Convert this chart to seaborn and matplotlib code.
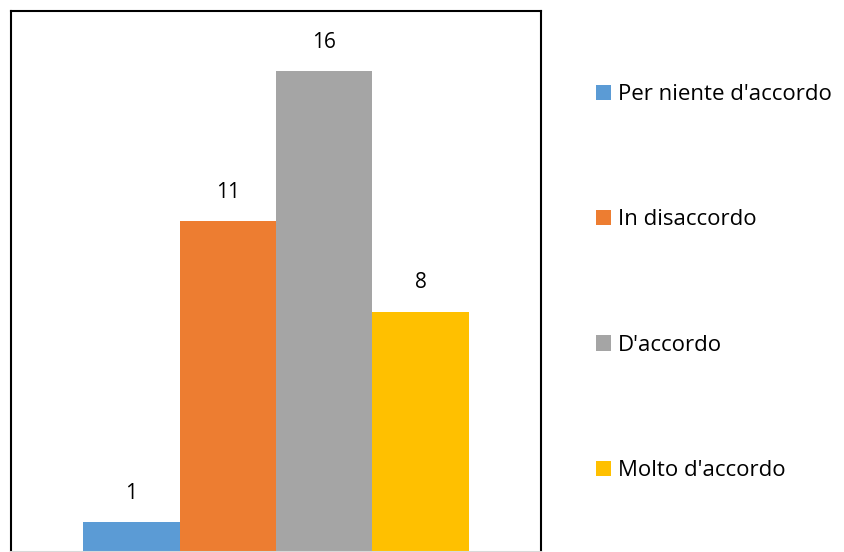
import pandas as pd
import seaborn as sns
import matplotlib.pyplot as plt

risposte = ["Per niente d'accordo", "In disaccordo", "D'accordo", "Molto d'accordo"]
conteggi = [1, 11, 16, 8]
colori = ["#5B9BD5", "#ED7D31", "#A5A5A5", "#FFC000"]

data = pd.DataFrame({'gruppo': [''] * len(risposte), 'risposta': risposte, 'n': conteggi})

sns.set_style('white')
plt.rcParams['font.family'] = ['Open Sans', 'DejaVu Sans']

fig = plt.figure(figsize=(8.45, 5.52), dpi=100)
ax = fig.add_axes([11 / 845, 0.0, 530 / 845, 541 / 552])

sns.barplot(data=data, x='gruppo', y='n', hue='risposta', hue_order=risposte,
            palette=colori, width=0.728, saturation=1, linewidth=0, ax=ax, legend=True)

for c in ax.containers:
    ax.bar_label(c, padding=13, fontsize=15, color='black')

ax.set_ylim(0, 18)
ax.set_xlim(-0.5, 0.5)
ax.set_xlabel('')
ax.set_ylabel('')
ax.set_xticks([])
ax.set_yticks([])
for s in ax.spines.values():
    s.set_color('black')
    s.set_linewidth(1.5)
ax.spines['bottom'].set_color('#d9d9d9')

handles, labels = ax.get_legend_handles_labels()
ax.legend(handles, labels, loc='upper left', bbox_to_anchor=(596 / 845, 1 - 84 / 552),
          bbox_transform=fig.transFigure, frameon=False, fontsize=16, labelcolor='black',
          handlelength=0.68, handleheight=0.68, handletextpad=0.3,
          labelspacing=4.7, borderaxespad=0, borderpad=0)

fig.savefig('out.png', dpi=100)
plt.close()
